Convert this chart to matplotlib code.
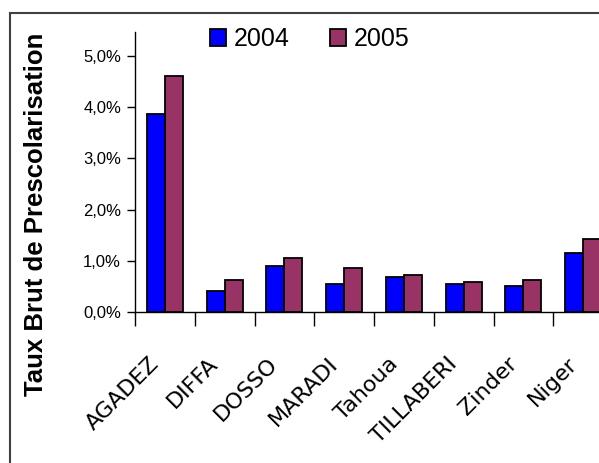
import matplotlib
matplotlib.use("Agg")
import matplotlib.pyplot as plt
from matplotlib.patches import Rectangle
from matplotlib.ticker import FuncFormatter, FixedLocator
import numpy as np

categories = ["AGADEZ", "DIFFA", "DOSSO", "MARADI", "Tahoua", "TILLABERI", "Zinder", "Niger"]
values_2004 = [3.86, 0.40, 0.89, 0.54, 0.67, 0.54, 0.50, 1.15]
values_2005 = [4.61, 0.62, 1.06, 0.85, 0.71, 0.575, 0.62, 1.42]
series_labels = ["2004", "2005"]
yticks = [0, 1, 2, 3, 4, 5]

W, H = 599, 463
fig = plt.figure(figsize=(W / 100, H / 100), dpi=100)
fig.patch.set_facecolor("white")

left = 135 / W
bottom = (H - 311.7) / H
top = (H - 31.7) / H
width = 478 / W
ax = fig.add_axes([left, bottom, width, top - bottom])

x = np.arange(len(categories))
bw = 0.3
b1 = ax.bar(x - bw / 2, values_2004, bw, color="#0000FF", edgecolor="black", linewidth=1.3, label=series_labels[0], zorder=3)
b2 = ax.bar(x + bw / 2, values_2005, bw, color="#993366", edgecolor="black", linewidth=1.3, label=series_labels[1], zorder=3)

ax.set_xlim(-0.5, len(categories) - 0.5)
ax.set_ylim(0, 5.48)

for s in ["top", "right"]:
    ax.spines[s].set_visible(False)
for s in ["left", "bottom"]:
    ax.spines[s].set_color("black")
    ax.spines[s].set_linewidth(1.0)

ax.yaxis.set_major_locator(FixedLocator(yticks))
ax.yaxis.set_major_formatter(FuncFormatter(lambda v, p: f"{v:.1f}".replace(".", ",") + "%"))
ax.tick_params(axis="y", direction="out", length=6, width=1, labelsize=12, pad=4)
for lab in ax.get_yticklabels():
    lab.set_fontfamily("Liberation Sans")

# x ticks between categories, labels at centers
ax.set_xticks(x - 0.04)
ax.set_xticks(np.arange(-0.5, len(categories), 1.0), minor=True)
ax.tick_params(axis="x", which="major", length=0, pad=30)
ax.tick_params(axis="x", which="minor", direction="out", length=10, width=1)
ax.set_xticklabels(categories, rotation=45, ha="right", va="top", fontsize=16, fontfamily="DejaVu Sans")

# y axis label
fig.text(36 / W, 1 - 214 / H, "Taux Brut de Prescolarisation", rotation=90, ha="center", va="center",
         fontsize=18.5, fontweight="bold", fontfamily="Liberation Sans")

# legend
leg = fig.legend(handles=[b1, b2], labels=series_labels, loc="center left",
                 bbox_to_anchor=(210 / W, 1 - 39 / H), ncol=2, frameon=False,
                 prop={"family": "Liberation Sans", "size": 18},
                 handlelength=0.65, handleheight=0.7, handletextpad=0.3,
                 columnspacing=1.6, borderpad=0, borderaxespad=0)

# chart frame
fig.patches.append(Rectangle((9.5 / W, -0.1), 1.2, 1 - 13 / H + 0.1, transform=fig.transFigure,
                             fill=False, edgecolor="#404040", linewidth=1.5, zorder=0))

fig.savefig("out.png", dpi=100, facecolor="white")
